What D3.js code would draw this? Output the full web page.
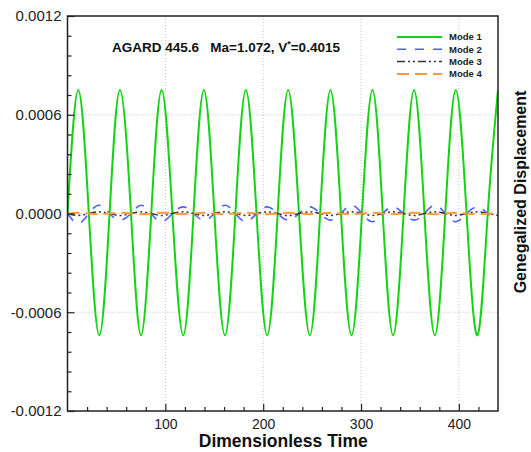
<!DOCTYPE html>
<html>
<head>
<meta charset="utf-8">
<script src="https://cdn.jsdelivr.net/npm/d3@7"></script>
<style>
  html, body { margin: 0; padding: 0; background: #fff; }
  svg { display: block; font-family: Arial, "Liberation Sans", sans-serif; }
</style>
</head>
<body>
<svg id="chart" width="531" height="452"></svg>
<script>
// ---- data (extrema and zero crossings) ----
const time = [0, 11.0, 21.8, 32.5, 43.0, 53.6, 64.9, 75.1, 85.6, 96.2, 107.2, 118.3, 128.8,
  139.4, 150.1, 160.9, 171.6, 182.3, 193.2, 204.1, 214.8, 225.5, 236.6, 247.7, 258.2,
  268.8, 279.5, 290.3, 301.0, 311.7, 322.2, 332.8, 343.5, 354.2, 364.8, 375.4, 386.1,
  396.8, 407.9, 419.0, 429.5, 440];
const mode1 = [0, 0.00075, 0, -0.00074, 0, 0.00075, 0, -0.00074, 0, 0.00075, 0, -0.00074, 0,
  0.00075, 0, -0.00074, 0, 0.00075, 0, -0.00074, 0, 0.00075, 0, -0.00074, 0,
  0.00075, 0, -0.00074, 0, 0.00075, 0, -0.00074, 0, 0.00075, 0, -0.00074, 0,
  0.00075, 0, -0.00074, 0, 0.00075];
const mode2 = [0, -0.00006, 0, 0.00005, 0, -0.00004, 0, 0.00005, 0, -0.00005, 0, 0.00004, 0,
  -0.00004, 0, 0.00005, 0, -0.00005, 0, 0.00004, 0, -0.00004, 0, 0.00004, 0,
  -0.00004, 0, 0.00005, 0, -0.00005, 0, 0.00004, 0, -0.00004, 0, 0.00005, 0,
  -0.00005, 0, 0.00004, 0, -0.00004];
const mode3 = [0, -0.000012, 0, 0.00001, 0, -0.000012, 0, 0.00001, 0, -0.000012, 0, 0.00001, 0,
  -0.000012, 0, 0.00001, 0, -0.000012, 0, 0.00001, 0, -0.000012, 0, 0.00001, 0,
  -0.000012, 0, 0.00001, 0, -0.000012, 0, 0.00001, 0, -0.000012, 0, 0.00001, 0,
  -0.000012, 0, 0.00001, 0, -0.000012];
const mode4 = [0, 0.000004, 0, -0.000004, 0, 0.000004, 0, -0.000004, 0, 0.000004, 0, -0.000004, 0,
  0.000004, 0, -0.000004, 0, 0.000004, 0, -0.000004, 0, 0.000004, 0, -0.000004, 0,
  0.000004, 0, -0.000004, 0, 0.000004, 0, -0.000004, 0, 0.000004, 0, -0.000004, 0,
  0.000004, 0, -0.000004, 0, 0.000004];

const seriesNames = ["Mode 1", "Mode 2", "Mode 3", "Mode 4"];
const xTicks = [100, 200, 300, 400];
const xMinorTicks = [20, 40, 60, 80, 120, 140, 160, 180, 220, 240, 260, 280, 320, 340, 360, 380, 420];
const yTicks = [-0.0012, -0.0006, 0, 0.0006, 0.0012];
const yTickLabels = ["-0.0012", "-0.0006", "0.0000", "0.0006", "0.0012"];
const yMinorTicks = [-0.00108, -0.00096, -0.00084, -0.00072, -0.00048, -0.00036, -0.00024, -0.00012,
  0.00012, 0.00024, 0.00036, 0.00048, 0.00072, 0.00084, 0.00096, 0.00108];
const titleMain = "AGARD 445.6\u00a0\u00a0 Ma=1.072, V";
const titleSup = "*";
const titleEnd = "=0.4015";

// ---- layout / style ----
const pL = 67.5, pR = 498, pT = 16, pB = 411;
const styles = [
  { color: "#12d412", width: 2, dash: null },
  { color: "#5060ff", width: 1.6, dash: "9,9" },
  { color: "#333333", width: 1.5, dash: "8,3,2,3,2,3" },
  { color: "#ff9a3c", width: 2, dash: "12,6" }
];

const svg = d3.select("#chart");
const x = d3.scaleLinear().domain([0, 440]).range([pL, pR]);
const y = d3.scaleLinear().domain([-0.0012, 0.0012]).range([pB, pT]);

// grid
const grid = svg.append("g").attr("stroke", "#c4c4c4").attr("stroke-width", 1).attr("stroke-dasharray", "1,2");
grid.selectAll("line.vx").data(xTicks).join("line")
  .attr("x1", d => x(d)).attr("x2", d => x(d)).attr("y1", pT).attr("y2", pB);
grid.selectAll("line.hy").data([-0.0006, 0, 0.0006]).join("line")
  .attr("y1", d => y(d)).attr("y2", d => y(d)).attr("x1", pL).attr("x2", pR);

// clip
svg.append("clipPath").attr("id", "clip").append("rect")
  .attr("x", pL).attr("y", pT).attr("width", pR - pL).attr("height", pB - pT);

const modes = [mode1, mode2, mode3, mode4];
const line = d3.line().x(d => x(d[0])).y(d => y(d[1])).curve(d3.curveNatural);
const plot = svg.append("g").attr("clip-path", "url(#clip)");
modes.forEach((vals, i) => {
  const pts = time.map((t, k) => [t, vals[k]]);
  plot.append("path").datum(pts)
    .attr("d", line)
    .attr("fill", "none")
    .attr("stroke", styles[i].color)
    .attr("stroke-width", styles[i].width)
    .attr("stroke-dasharray", styles[i].dash);
});

// axes
const xAxis = svg.append("g").attr("transform", `translate(0,${pB})`)
  .call(d3.axisBottom(x).tickValues(xTicks).tickSizeInner(-7).tickSizeOuter(0).tickPadding(8).tickFormat(d3.format("d")));
const xMinor = svg.append("g").attr("transform", `translate(0,${pB})`)
  .call(d3.axisBottom(x).tickValues(xMinorTicks).tickSizeInner(-4).tickSizeOuter(0).tickFormat(""));
const yAxis = svg.append("g").attr("transform", `translate(${pL},0)`)
  .call(d3.axisLeft(y).tickValues(yTicks).tickSizeInner(-7).tickSizeOuter(0).tickPadding(6)
    .tickFormat((d, i) => yTickLabels[i]));
const yMinor = svg.append("g").attr("transform", `translate(${pL},0)`)
  .call(d3.axisLeft(y).tickValues(yMinorTicks).tickSizeInner(-4).tickSizeOuter(0).tickFormat(""));
[xAxis, xMinor, yAxis, yMinor].forEach(g => {
  g.select(".domain").remove();
  g.selectAll(".tick line").attr("stroke", "#222").attr("stroke-width", 1.2);
  g.selectAll("text").attr("font-size", 14).attr("fill", "#222")
    .attr("font-family", "Arial, 'Liberation Sans', sans-serif");
});
yAxis.selectAll("text").attr("font-size", 15);

// frame
svg.append("rect").attr("x", pL).attr("y", pT).attr("width", pR - pL).attr("height", pB - pT)
  .attr("fill", "none").attr("stroke", "#222").attr("stroke-width", 1.5);

// title
const title = svg.append("text").attr("x", 112).attr("y", 52)
  .attr("font-size", 13.5).attr("font-weight", "bold").attr("fill", "#111");
title.append("tspan").text(titleMain);
title.append("tspan").attr("dy", -5).attr("font-size", 9).text(titleSup);
title.append("tspan").attr("dy", 5).text(titleEnd);

// legend
const leg = svg.append("g");
seriesNames.forEach((name, i) => {
  const yy = 37 + i * 12.3;
  leg.append("line").attr("x1", 397).attr("x2", 442).attr("y1", yy).attr("y2", yy)
    .attr("stroke", styles[i].color).attr("stroke-width", styles[i].width)
    .attr("stroke-dasharray", styles[i].dash);
  leg.append("text").attr("x", 449).attr("y", yy + 3.2).attr("font-size", 9.5)
    .attr("font-weight", "bold").attr("fill", "#222").text(name);
});

// axis titles
svg.append("text").attr("x", (pL + pR) / 2 + 0.5).attr("y", 447)
  .attr("text-anchor", "middle").attr("font-size", 17.5).attr("font-weight", "bold").attr("fill", "#111")
  .text("Dimensionless Time");
svg.append("text").attr("transform", "translate(526,192) rotate(-90)")
  .attr("text-anchor", "middle").attr("font-size", 16).attr("font-weight", "bold").attr("fill", "#111")
  .text("Genegalized Displacement");
</script>
</body>
</html>
